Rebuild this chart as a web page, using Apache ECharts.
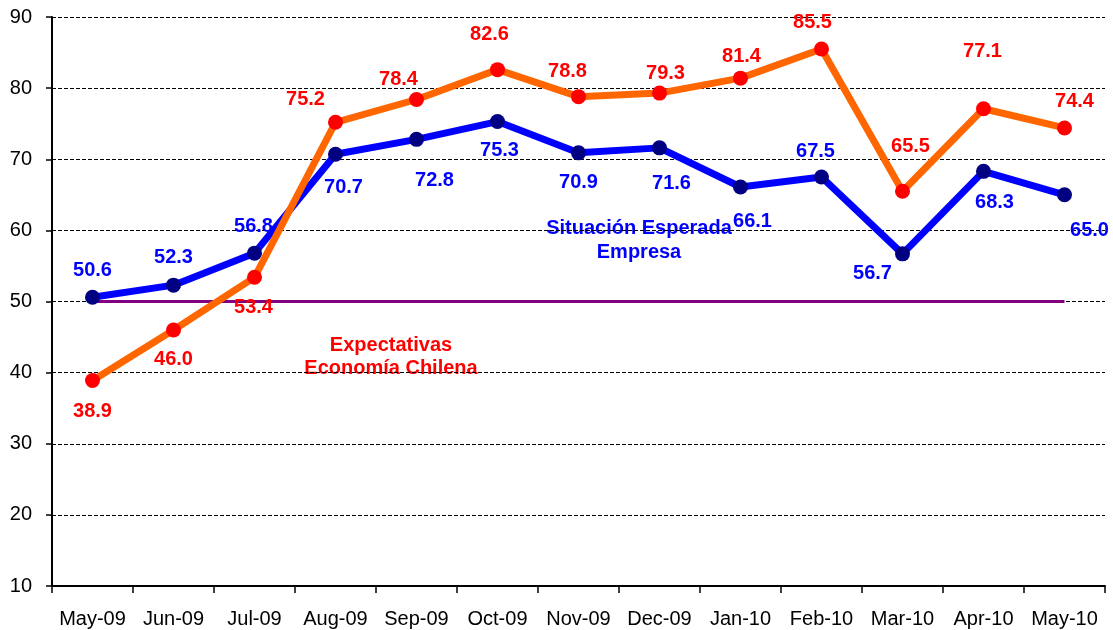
<!DOCTYPE html>
<html>
<head>
<meta charset="utf-8">
<script src="https://cdn.jsdelivr.net/npm/echarts@6/dist/echarts.min.js"></script>
<style>
  html, body { margin: 0; padding: 0; background: #fff; }
  #chart { width: 1113px; height: 630px; }
</style>
</head>
<body>
<div id="chart"></div>
<script>
const months = ['May-09', 'Jun-09', 'Jul-09', 'Aug-09', 'Sep-09', 'Oct-09', 'Nov-09',
  'Dec-09', 'Jan-10', 'Feb-10', 'Mar-10', 'Apr-10', 'May-10']
const economia = [38.9, 46.0, 53.4, 75.2, 78.4, 82.6, 78.8, 79.3, 81.4, 85.5, 65.5, 77.1, 74.4]
const empresa = [50.6, 52.3, 56.8, 70.7, 72.8, 75.3, 70.9, 71.6, 66.1, 67.5, 56.7, 68.3, 65.0]
const neutral = [50, 50, 50, 50, 50, 50, 50, 50, 50, 50, 50, 50, 50]

// where each value label sits relative to its point (px)
const economiaLabelOffsets = [[0, 31], [0, 30], [-1, 30], [-30, -23], [-18, -20], [-8, -35],
  [-11, -25], [6, -20], [1, -22], [-9, -27], [8, -45], [-1, -57], [10, -26]]
const empresaLabelOffsets = [[0, -27], [0, -28], [-1, -27], [8, 33], [18, 41], [2, 29],
  [0, 30], [12, 36], [12, 34], [-6, -26], [-30, 20], [11, 31], [25, 36]]

const font = 'Arial, "Liberation Sans", sans-serif'

const withLabels = (values, offsets) =>
  values.map((v, i) => ({ value: v, label: { offset: offsets[i] } }))

const labelStyle = (color) => ({
  show: true,
  position: 'inside',
  color: color,
  fontFamily: font,
  fontWeight: 'bold',
  fontSize: 20,
  formatter: (p) => p.value.toFixed(1),
})

const chart = echarts.init(document.getElementById('chart'))
chart.setOption({
  animation: false,
  grid: { left: 52, right: 8, top: 17, bottom: 44 },
  xAxis: {
    type: 'category',
    data: months,
    boundaryGap: true,
    axisLine: { lineStyle: { color: '#000', width: 2 } },
    axisTick: { show: true, length: 7, lineStyle: { color: '#000', width: 1.5 } },
    axisLabel: { color: '#000', fontFamily: font, fontSize: 20, margin: 23, interval: 0 },
    splitLine: { show: false },
  },
  yAxis: {
    type: 'value',
    min: 10,
    max: 90,
    interval: 10,
    axisLine: { show: true, lineStyle: { color: '#000', width: 2 } },
    axisTick: { show: true, length: 6, lineStyle: { color: '#000', width: 1.5 } },
    axisLabel: { color: '#000', fontFamily: font, fontSize: 20, margin: 20 },
    splitLine: { show: true, lineStyle: { color: '#000', width: 1, type: [4, 2] } },
  },
  graphic: [
    {
      type: 'text', x: 391, y: 357, z: -10,
      style: {
        text: 'Expectativas\nEconomía Chilena',
        fill: '#ff0000', font: 'bold 20px ' + font, lineHeight: 23,
        align: 'center', verticalAlign: 'middle',
      },
    },
    {
      type: 'text', x: 639, y: 240, z: -10,
      style: {
        text: 'Situación Esperada\nEmpresa',
        fill: '#0000ff', font: 'bold 20px ' + font, lineHeight: 24,
        align: 'center', verticalAlign: 'middle',
      },
    },
  ],
  series: [
    {
      name: 'Neutral',
      type: 'line',
      data: neutral,
      symbol: 'none',
      lineStyle: { color: '#800080', width: 3 },
      z: 1,
    },
    {
      name: 'Situación Esperada Empresa',
      type: 'line',
      data: withLabels(empresa, empresaLabelOffsets),
      symbol: 'circle',
      symbolSize: 15,
      itemStyle: { color: '#000080' },
      lineStyle: { color: '#0000ff', width: 7 },
      label: labelStyle('#0000ff'),
      z: 2,
    },
    {
      name: 'Expectativas Economía Chilena',
      type: 'line',
      data: withLabels(economia, economiaLabelOffsets),
      symbol: 'circle',
      symbolSize: 15,
      itemStyle: { color: '#ff0000' },
      lineStyle: { color: '#ff6600', width: 7 },
      label: labelStyle('#ff0000'),
      z: 3,
    },
  ],
})
</script>
</body>
</html>
